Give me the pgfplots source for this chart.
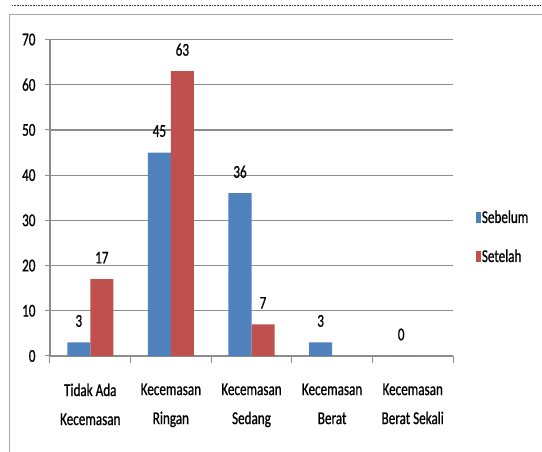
\documentclass[border=0pt]{standalone}
\usepackage{pgfplots}
\pgfplotsset{compat=1.18}
\usepackage{fontspec}
\setmainfont{Carlito}[FakeStretch=0.73, FakeBold=0.8]
\definecolor{cblue}{HTML}{4F81BD}
\definecolor{cred}{HTML}{C0504D}
\definecolor{gridc}{HTML}{8C8C8C}
\definecolor{framec}{HTML}{A6A6A6}
\newcommand\cf{\fontsize{18}{21}\selectfont}
\begin{document}
\begin{tikzpicture}[x=1pt,y=1pt]
\path[use as bounding box] (-50,-96) rectangle (492,356);
\draw[framec, line width=1.3pt] (-40.5,-96) -- (-40.5,341.5) -- (492,341.5);
\draw[black!75, line width=1pt, dash pattern=on 0.8pt off 0.8pt] (-38,350.5) -- (492,350.5);
\begin{axis}[
  at={(0,0)}, anchor=south west,
  scale only axis, width=403pt, height=316.5pt,
  ybar=0pt, bar width=23pt,
  xmin=-0.5, xmax=4.5, ymin=0, ymax=70,
  xtick={0,1,2,3,4},
  xticklabels={{Tidak Ada\\[8pt]Kecemasan},{Kecemasan\\[8pt]Ringan},{Kecemasan\\[8pt]Sedang},{Kecemasan\\[8pt]Berat},{Kecemasan\\[8pt]Berat Sekali}},
  minor xtick={-0.5,0.5,...,4.5},
  ytick={0,10,...,70},
  tick align=outside,
  major tick length=5pt,
  minor tick length=7pt,
  major x tick style={draw=none},
  minor x tick style={draw=gridc, line width=1pt},
  y tick style={draw=gridc, line width=1pt},
  axis x line*=bottom, axis y line*=left,
  axis line style={draw=gridc, line width=1.2pt, -},
  ymajorgrids, major grid style={draw=gridc, line width=1.2pt},
  /pgf/number format/assume math mode=true,
  tick label style={font=\cf, text=black},
  xticklabel style={align=center, yshift=-19pt},
  yticklabel style={xshift=-6pt},
  nodes near coords,
  every node near coord/.append style={font=\cf, text=black, anchor=center, yshift=21.5pt},
  legend style={at={(1.0563,0.376)}, anchor=west, draw=none, fill=none, font=\cf, row sep=21pt, inner sep=0pt, nodes={inner xsep=1pt}},
  legend cell align=left,
  legend image code/.code={\fill[#1] (0pt,-5.5pt) rectangle (5pt,5.5pt);},
]
\addplot[fill=cblue, draw=none] coordinates {(0,3) (1,45) (2,36) (3,3) (4,0)};
\addplot[fill=cred, draw=none] coordinates {(0,17) (1,63) (2,7)};
\legend{Sebelum,Setelah}
\end{axis}
\end{tikzpicture}
\end{document}
